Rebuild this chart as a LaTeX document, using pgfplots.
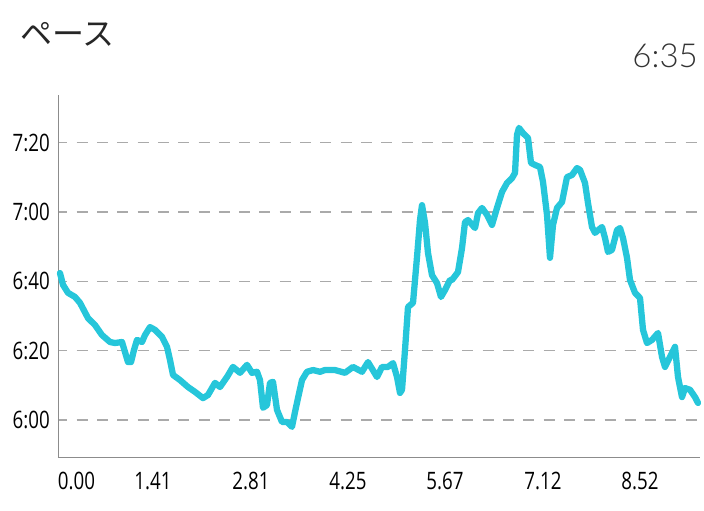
\documentclass[border=0pt]{standalone}
\usepackage{fontspec}
\usepackage{pgfplots}
\pgfplotsset{compat=1.18}
\setmainfont{Open Sans}
\newfontfamily\tickfont[FakeStretch=0.78]{Open Sans}
\newfontfamily\lightfont{Lato Light}
\newfontfamily\jpfont{Noto Sans CJK JP}
\definecolor{paceline}{RGB}{38,198,218}
\definecolor{axisgray}{RGB}{140,140,140}
\definecolor{gridgray}{RGB}{170,170,170}
\begin{document}
\begin{tikzpicture}
\useasboundingbox (-58bp,-54bp) rectangle (646bp,457bp);
\begin{axis}[
  at={(0,0)}, anchor=south west,
  scale only axis, width=642bp, height=362bp,
  xmin=0, xmax=642, ymin=349.3, ymax=453.8,
  axis x line=bottom, axis y line=left,
  axis line style={-, draw=axisgray, line width=0.9bp},
  major tick length=0pt,
  xtick={0,95,193,290,387,485,582},
  xticklabels={\makebox[0pt][l]{0.00},1.41,2.81,4.25,5.67,7.12,8.52},
  ytick={360,380,400,420,440},
  yticklabels={6:00,6:20,6:40,7:00,7:20},
  /pgf/number format/assume math mode=true,
  tick label style={font=\tickfont\fontsize{24bp}{28bp}\selectfont, text=black, inner sep=0pt},
  xticklabel style={anchor=north, yshift=-15bp},
  yticklabel style={anchor=east, xshift=-8bp},
  ymajorgrids,
  major grid style={draw=gridgray, line width=1.3bp, dash pattern=on 11bp off 9.3bp, dash phase=1.6bp},
  clip=false,
]
\addplot[paceline, line width=6.3bp, line join=round, line cap=round] coordinates {
(2,402.4) (5,399.0) (10,396.7) (17,395.5) (22,393.8) (30,389.4) (37,387.4)
(44,384.5) (52,382.5) (57,382.2) (64,382.5) (67,379.6) (70,376.7) (73,376.7)
(76,380.2) (79,383.1) (84,382.5) (87,384.5) (92,386.8) (97,386.0) (104,384.0)
(109,381.1) (112,377.3) (115,373.0) (122,371.5) (130,369.5) (137,368.1)
(145,366.3) (150,367.2) (157,370.7) (162,369.5) (169,372.4) (175,375.3)
(182,373.6) (189,375.9) (194,373.6) (199,373.9) (202,371.5) (205,363.5)
(209,364.3) (212,370.7) (215,371.0) (219,362.9) (224,359.4) (229,359.4)
(234,358.0) (237,362.3) (240,366.3) (244,371.5) (249,373.9) (255,374.4)
(262,373.9) (267,374.4) (277,374.4) (287,373.6) (295,375.3) (304,373.9)
(310,376.7) (319,372.4) (324,375.3) (330,375.3) (335,376.4) (339,372.4)
(342,367.8) (344,368.7) (347,380.2) (350,392.6) (355,393.8) (359,407.0)
(362,417.7) (364,422.0) (367,416.9) (370,408.2) (374,401.8) (379,399.5)
(383,395.5) (387,397.5) (392,400.4) (394,400.4) (400,402.7) (404,409.6)
(407,417.1) (410,417.7) (417,415.4) (420,419.7) (424,421.2) (429,419.2)
(434,416.3) (439,421.2) (444,425.8) (449,428.4) (454,429.8) (457,431.3)
(459,442.3) (461,444.3) (465,442.8) (470,441.4) (473,434.2) (477,433.6)
(482,433.0) (485,428.7) (489,419.2) (492,406.8) (495,416.3) (499,421.2)
(504,422.9) (509,430.1) (514,430.7) (519,432.7) (522,432.2) (527,428.4)
(530,422.6) (534,415.7) (537,414.0) (544,415.7) (547,412.5) (550,408.5)
(554,409.1) (559,414.8) (562,415.4) (565,412.5) (569,406.8) (572,400.4)
(577,396.7) (582,395.2) (585,386.0) (589,382.2) (594,383.1) (600,385.1)
(604,378.2) (607,375.3) (612,378.2) (617,381.1) (620,372.4) (624,366.6)
(627,369.2) (632,368.7) (637,366.6) (640,364.9)
};
\end{axis}
\node[anchor=north west, inner sep=0pt, text=black!85] at (-38bp,435bp) {\jpfont\fontsize{32bp}{36bp}\selectfont ペース};
\node[anchor=north east, inner sep=0pt, text=black!80] at (640bp,413bp) {\lightfont\fontsize{33bp}{38bp}\selectfont 6:35};
\end{tikzpicture}
\end{document}
